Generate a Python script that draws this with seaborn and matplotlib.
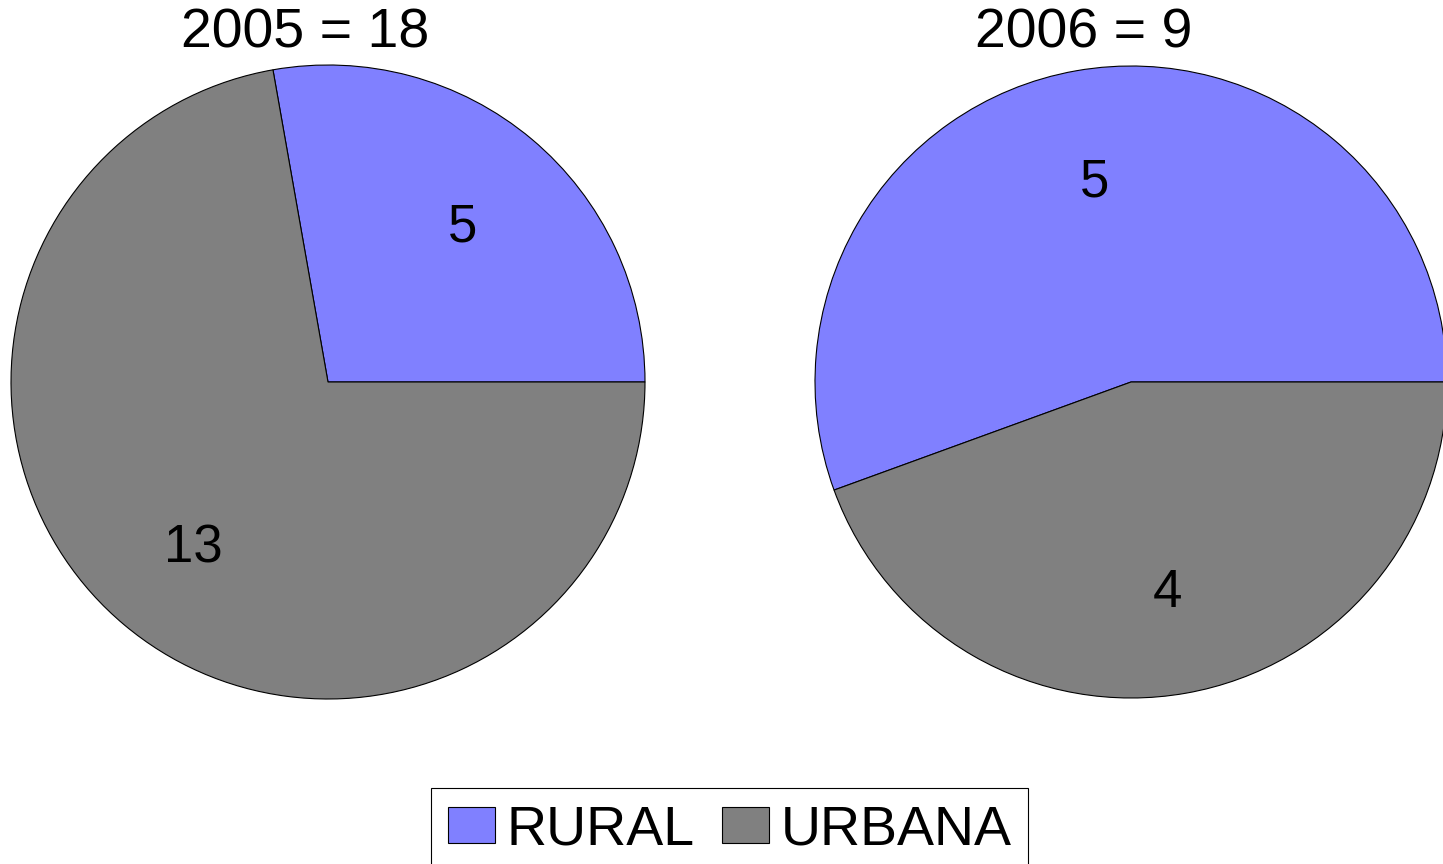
import matplotlib
matplotlib.use("Agg")
import matplotlib.pyplot as plt
import matplotlib.transforms as mtransforms
import seaborn as sns

sns.set_theme(style="white")
plt.rcParams['font.family'] = ['Liberation Sans', 'DejaVu Sans']

categories = ["RURAL", "URBANA"]
years = ["2005", "2006"]
values_2005 = [5, 13]
values_2006 = [5, 4]
colors = ["#8080FF", "#808080"]

W, H = 1443, 864
fig = plt.figure(figsize=(W / 100, H / 100), dpi=100)
fig.patch.set_facecolor("white")

# pie layout in pixels: (center x, center y from top, radius)
layouts = [(328, 382, 317), (1131, 382, 316)]
title_x = [305, 1084]
series = [values_2005, values_2006]

wedges_ref = None
for (cx, cy, r), vals, yr, tx in zip(layouts, series, years, title_x):
    ax = fig.add_axes([(cx - r) / W, (H - cy - r) / H, 2 * r / W, 2 * r / H])
    total = sum(vals)
    wedges, texts, autotexts = ax.pie(
        vals, colors=colors, startangle=0, counterclock=True, radius=1,
        autopct=lambda p, t=total: f"{round(p * t / 100):d}",
        pctdistance=0.66,
        wedgeprops=dict(edgecolor="black", linewidth=0.8),
        textprops=dict(fontsize=38, color="black"),
    )
    shift = mtransforms.offset_copy(ax.transData, fig=fig, x=0, y=-6, units="dots")
    for at in autotexts:
        at.set_transform(shift)
    ax.set_xlim(-1, 1)
    ax.set_ylim(-1, 1)
    ax.set_aspect("equal")
    ax.axis("off")
    fig.text(tx / W, 1 - 34 / H, f"{yr} = {total}", ha="center", va="center",
             fontsize=40, color="black")
    wedges_ref = wedges

leg = fig.legend(wedges_ref, categories, loc="upper center",
                 bbox_to_anchor=(729.5 / W, 1 - 788 / H), ncol=2,
                 fontsize=40, frameon=True, fancybox=False,
                 edgecolor="black", framealpha=1,
                 handlelength=0.85, handleheight=0.6, handletextpad=0.2,
                 columnspacing=0.5, borderpad=0.3, borderaxespad=0)
leg.get_frame().set_linewidth(0.8)
for t in leg.get_texts():
    t.set_color("black")

fig.savefig("out.png", dpi=100, facecolor="white")
